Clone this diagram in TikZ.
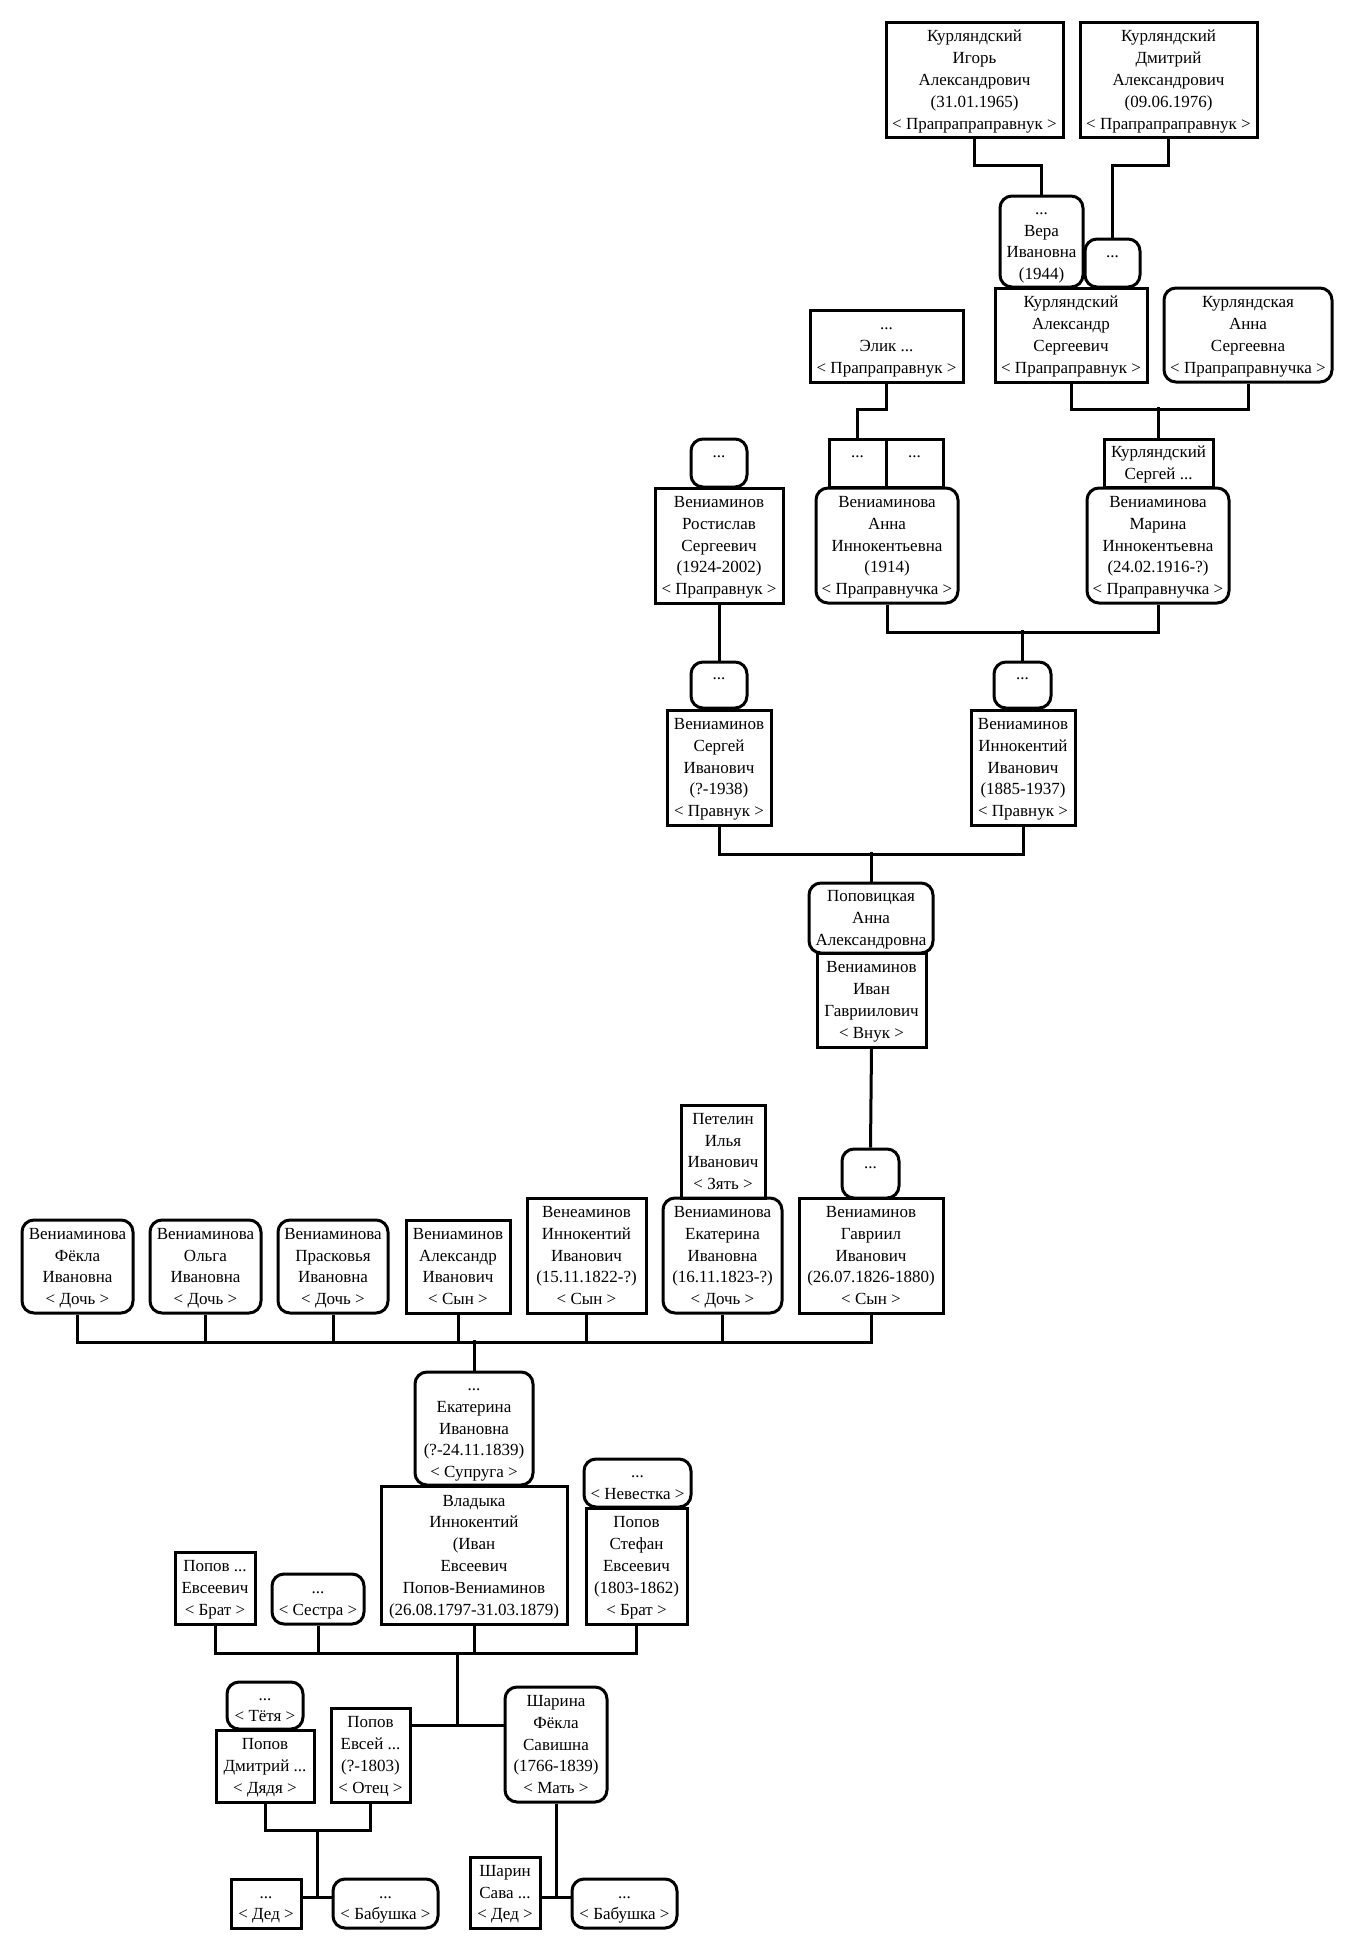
\documentclass[tikz,border=0pt]{standalone}
\usepackage{fontspec}
\setmainfont{Liberation Serif}
\newcommand{\mystrut}{\rule[-5.4pt]{0pt}{21.8pt}}
\tikzset{
  sq/.style={draw, line width=3pt, inner sep=0pt, align=center,
    font=\fontsize{17}{21.8}\selectfont},
  rd/.style={sq, rounded corners=12pt},
  conn/.style={line width=3pt}
}
\newcommand{\pbox}[7]{\node[#1, minimum width={#4-#3}, minimum height={#6-#5}] (#2) at ({(#3+#4)/2},{(#5+#6)/2}) {\mystrut#7\mystrut};}
\begin{document}
\begin{tikzpicture}[x=1pt,y=-1pt]
\useasboundingbox (0,0) rectangle (1354,1951);
% top
\pbox{sq}{igor}{886}{1063}{23}{137}{Курляндский\\Игорь\\Александрович\\(31.01.1965)\\< Прапрапраправнук >}
\pbox{sq}{dmitry}{1080}{1257}{23}{137}{Курляндский\\Дмитрий\\Александрович\\(09.06.1976)\\< Прапрапраправнук >}
\pbox{rd}{vera}{1000}{1083}{196}{287}{...\\Вера\\Ивановна\\(1944)}
\pbox{rd}{dotsa}{1085}{1140}{239}{287}{...\\}
\pbox{sq}{aleks}{995}{1147}{288}{382}{Курляндский\\Александр\\Сергеевич\\< Прапраправнук >}
\pbox{rd}{annaS}{1164}{1332}{288}{382}{Курляндская\\Анна\\Сергеевна\\< Прапраправнучка >}
\pbox{sq}{elik}{810}{963}{310}{382}{...\\Элик ...\\< Прапраправнук >}
% middle
\pbox{rd}{rostdots}{691}{747}{439}{487}{...\\}
\pbox{sq}{rost}{655}{783}{488}{603}{Вениаминов\\Ростислав\\Сергеевич\\(1924-2002)\\< Праправнук >}
\pbox{sq}{annadotsa}{829}{886}{439}{487}{...\\}
\pbox{sq}{annadotsb}{886}{943}{439}{487}{...\\}
\pbox{rd}{annaI}{816}{958}{488}{603}{Вениаминова\\Анна\\Иннокентьевна\\(1914)\\< Праправнучка >}
\pbox{sq}{ksergey}{1104}{1213}{439}{487}{Курляндский\\Сергей ...}
\pbox{rd}{marina}{1087}{1229}{488}{603}{Вениаминова\\Марина\\Иннокентьевна\\(24.02.1916-?)\\< Праправнучка >}
\pbox{rd}{sergdots}{691}{747}{662}{708}{...\\}
\pbox{sq}{sergey}{667}{771}{710}{825}{Вениаминов\\Сергей\\Иванович\\(?-1938)\\< Правнук >}
\pbox{rd}{inndots}{994}{1051}{662}{708}{...\\}
\pbox{sq}{innok}{971}{1075}{710}{825}{Вениаминов\\Иннокентий\\Иванович\\(1885-1937)\\< Правнук >}
\pbox{rd}{popov}{809}{933}{883}{953}{Поповицкая\\Анна\\Александровна}
\pbox{sq}{ivan}{817}{926}{953}{1047}{Вениаминов\\Иван\\Гавриилович\\< Внук >}
\pbox{rd}{gavdots}{842}{899}{1149}{1198}{...\\}
\pbox{sq}{gavriil}{799}{943}{1198}{1313}{Вениаминов\\Гавриил\\Иванович\\(26.07.1826-1880)\\< Сын >}
\pbox{sq}{petelin}{681}{765}{1105}{1198}{Петелин\\Илья\\Иванович\\< Зять >}
\pbox{rd}{ekat}{663}{782}{1198}{1313}{Вениаминова\\Екатерина\\Ивановна\\(16.11.1823-?)\\< Дочь >}
\pbox{sq}{veninn}{527}{646}{1198}{1313}{Венеаминов\\Иннокентий\\Иванович\\(15.11.1822-?)\\< Сын >}
\pbox{sq}{aleksI}{406}{510}{1220}{1313}{Вениаминов\\Александр\\Иванович\\< Сын >}
\pbox{rd}{prask}{278}{388}{1220}{1313}{Вениаминова\\Прасковья\\Ивановна\\< Дочь >}
\pbox{rd}{olga}{150}{261}{1220}{1313}{Вениаминова\\Ольга\\Ивановна\\< Дочь >}
\pbox{rd}{fekla}{22}{133}{1220}{1313}{Вениаминова\\Фёкла\\Ивановна\\< Дочь >}
% lower
\pbox{rd}{supruga}{415}{533}{1372}{1485}{...\\Екатерина\\Ивановна\\(?-24.11.1839)\\< Супруга >}
\pbox{sq}{vladyka}{381}{567}{1486}{1624}{Владыка\\Иннокентий\\(Иван\\Евсеевич\\Попов-Вениаминов\\(26.08.1797-31.03.1879)}
\pbox{rd}{nevestka}{584}{691}{1459}{1507}{...\\< Невестка >}
\pbox{sq}{stefan}{586}{687}{1508}{1624}{Попов\\Стефан\\Евсеевич\\(1803-1862)\\< Брат >}
\pbox{sq}{brat}{175}{255}{1552}{1624}{Попов ...\\Евсеевич\\< Брат >}
\pbox{rd}{sestra}{272}{364}{1574}{1624}{...\\< Сестра >}
\pbox{rd}{tetya}{227}{303}{1682}{1729}{...\\< Тётя >}
\pbox{sq}{djadja}{216}{314}{1730}{1802}{Попов\\Дмитрий ...\\< Дядя >}
\pbox{sq}{evsey}{331}{410}{1708}{1802}{Попов\\Евсей ...\\(?-1803)\\< Отец >}
\pbox{rd}{sharina}{505}{607}{1687}{1802}{Шарина\\Фёкла\\Савишна\\(1766-1839)\\< Мать >}
\pbox{sq}{ded}{231}{301}{1879}{1928}{...\\< Дед >}
\pbox{rd}{baba}{333}{438}{1879}{1928}{...\\< Бабушка >}
\pbox{sq}{sava}{470}{540}{1857}{1928}{Шарин\\Сава ...\\< Дед >}
\pbox{rd}{babb}{572}{677}{1879}{1928}{...\\< Бабушка >}
% connectors
\draw[conn] (igor.south) -- ++(0,27) -| (vera.north);
\draw[conn] (dmitry.south) -- ++(0,27) -| (dotsa.north);
\draw[conn] (aleks.south) -- ++(0,26) -| (annaS.south);
\draw[conn] (ksergey.north) -- ++(0,-31);
\draw[conn] (elik.south) -- ++(0,26) -| (annadotsa.north);
\draw[conn] (rost.south) -- (sergdots.north);
\draw[conn] (annaI.south) -- ++(0,28) -| (marina.south);
\draw[conn] (inndots.north) -- ++(0,-31);
\draw[conn] (sergey.south) -- ++(0,28) -| (innok.south);
\draw[conn] (popov.north) -- ++(0,-30);
\draw[conn] (ivan.south) -- (gavdots.north);
\draw[conn] (fekla.south) -- ++(0,28) -| (gavriil.south);
\foreach \n in {olga,prask,aleksI,veninn,ekat} \draw[conn] (\n.south) -- ++(0,28);
\draw[conn] (supruga.north) -- ++(0,-31);
\draw[conn] (brat.south) -- ++(0,28) -| (stefan.south);
\foreach \n in {sestra,vladyka} \draw[conn] (\n.south) -- ++(0,28);
\coordinate (sib) at (457,1652);
\coordinate (par) at (457,1725);
\draw[conn] (sib) -- (par);
\draw[conn] (evsey.east |- par) -- (sharina.west |- par);
\draw[conn] (djadja.south) -- ++(0,27) -| (evsey.south);
\coordinate (ga) at (317,1829);
\coordinate (gb) at (317,1897);
\draw[conn] (ga) -- (gb);
\draw[conn] (ded.east |- gb) -- (baba.west |- gb);
\coordinate (gc) at (556,1897);
\draw[conn] (sharina.south) -- (gc);
\draw[conn] (sava.east |- gc) -- (babb.west |- gc);
\end{tikzpicture}
\end{document}
